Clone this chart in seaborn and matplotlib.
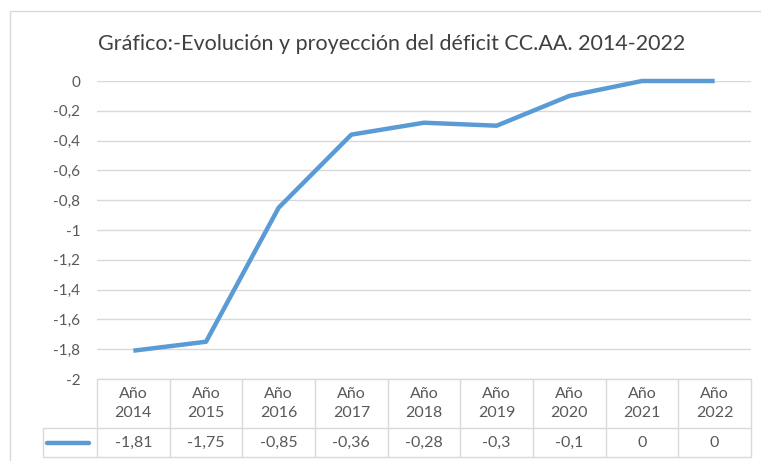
import pandas as pd
import seaborn as sns
import matplotlib.pyplot as plt
import matplotlib.transforms as mtransforms
from matplotlib.patches import Rectangle

# datos del gráfico
years = ["Año\n2014", "Año\n2015", "Año\n2016", "Año\n2017", "Año\n2018",
         "Año\n2019", "Año\n2020", "Año\n2021", "Año\n2022"]
deficit = [-1.81, -1.75, -0.85, -0.36, -0.28, -0.3, -0.1, 0, 0]
value_labels = ["-1,81", "-1,75", "-0,85", "-0,36", "-0,28", "-0,3", "-0,1", "0", "0"]
y_ticks = [0, -0.2, -0.4, -0.6, -0.8, -1, -1.2, -1.4, -1.6, -1.8, -2]
y_tick_labels = ["0", "-0,2", "-0,4", "-0,6", "-0,8", "-1", "-1,2", "-1,4", "-1,6", "-1,8", "-2"]

LINE_COLOR = "#5B9BD5"
GRID_COLOR = "#D9D9D9"
TEXT_COLOR = "#595959"

sns.set_style("white")
plt.rcParams['font.family'] = ['Lato', 'DejaVu Sans']

W, H = 761, 461
fig = plt.figure(figsize=(W / 100, H / 100), dpi=100)
ax = fig.add_axes([97 / W, 1 - 379 / H, (751 - 97) / W, (379 - 81) / H])

df = pd.DataFrame({"pos": range(len(years)), "valor": deficit})
sns.lineplot(data=df, x="pos", y="valor", color=LINE_COLOR, linewidth=3.2, ax=ax)
for ln in ax.lines:
    ln.set_clip_on(False)
    ln.set_solid_capstyle("butt")

ax.set_xlim(-0.5, len(years) - 0.5)
ax.set_ylim(-2, 0)
ax.set_yticks(y_ticks)
ax.set_yticklabels(y_tick_labels)
ax.set_xticks([])
ax.set_xlabel("")
ax.set_ylabel("")
ax.yaxis.grid(True, color=GRID_COLOR, linewidth=1)
ax.set_axisbelow(True)
for s in ax.spines.values():
    s.set_visible(False)
ax.tick_params(axis="y", length=0, pad=12, labelcolor=TEXT_COLOR, labelsize=11)

# tabla de datos bajo el eje
trans = mtransforms.blended_transform_factory(ax.transData, ax.transAxes)
px_per_unit = (751 - 97) / len(years)
ax_h = 379 - 81
head_bot = -(428 - 379) / ax_h
row_bot = -(457 - 379) / ax_h
leg_left = -0.5 - (98 - 44) / px_per_unit
right = len(years) - 0.5
kw = dict(color=GRID_COLOR, linewidth=1, transform=trans, clip_on=False)

ax.plot([-0.5, right], [0, 0], **kw)
ax.plot([leg_left, right], [head_bot, head_bot], **kw)
ax.plot([leg_left, right], [row_bot, row_bot], **kw)
ax.plot([leg_left, leg_left], [head_bot, row_bot], **kw)
for i in range(len(years) + 1):
    ax.plot([i - 0.5, i - 0.5], [0, row_bot], **kw)

for i, (yr, lab) in enumerate(zip(years, value_labels)):
    ax.text(i, head_bot / 2, yr, transform=trans, ha="center", va="center",
            fontsize=11.5, color=TEXT_COLOR, linespacing=1.5)
    ax.text(i, (head_bot + row_bot) / 2, lab, transform=trans, ha="center",
            va="center", fontsize=11.5, color=TEXT_COLOR)

# clave de la leyenda
ax.plot([-0.5 - 50 / px_per_unit, -0.5 - 8 / px_per_unit],
        [(head_bot + row_bot) / 2] * 2, color=LINE_COLOR, linewidth=3.2,
        solid_capstyle="round", transform=trans, clip_on=False)

fig.text(0.515, 1 - 44 / H, "Gráfico:-Evolución y proyección del déficit CC.AA. 2014-2022",
         ha="center", va="center", fontsize=15.5, color="#404040")

fig.add_artist(Rectangle((10 / W, -0.1), 1.0, 1 - 11 / H + 0.1, transform=fig.transFigure,
                         fill=False, edgecolor=GRID_COLOR, linewidth=1))

fig.savefig("out.png", dpi=100)
